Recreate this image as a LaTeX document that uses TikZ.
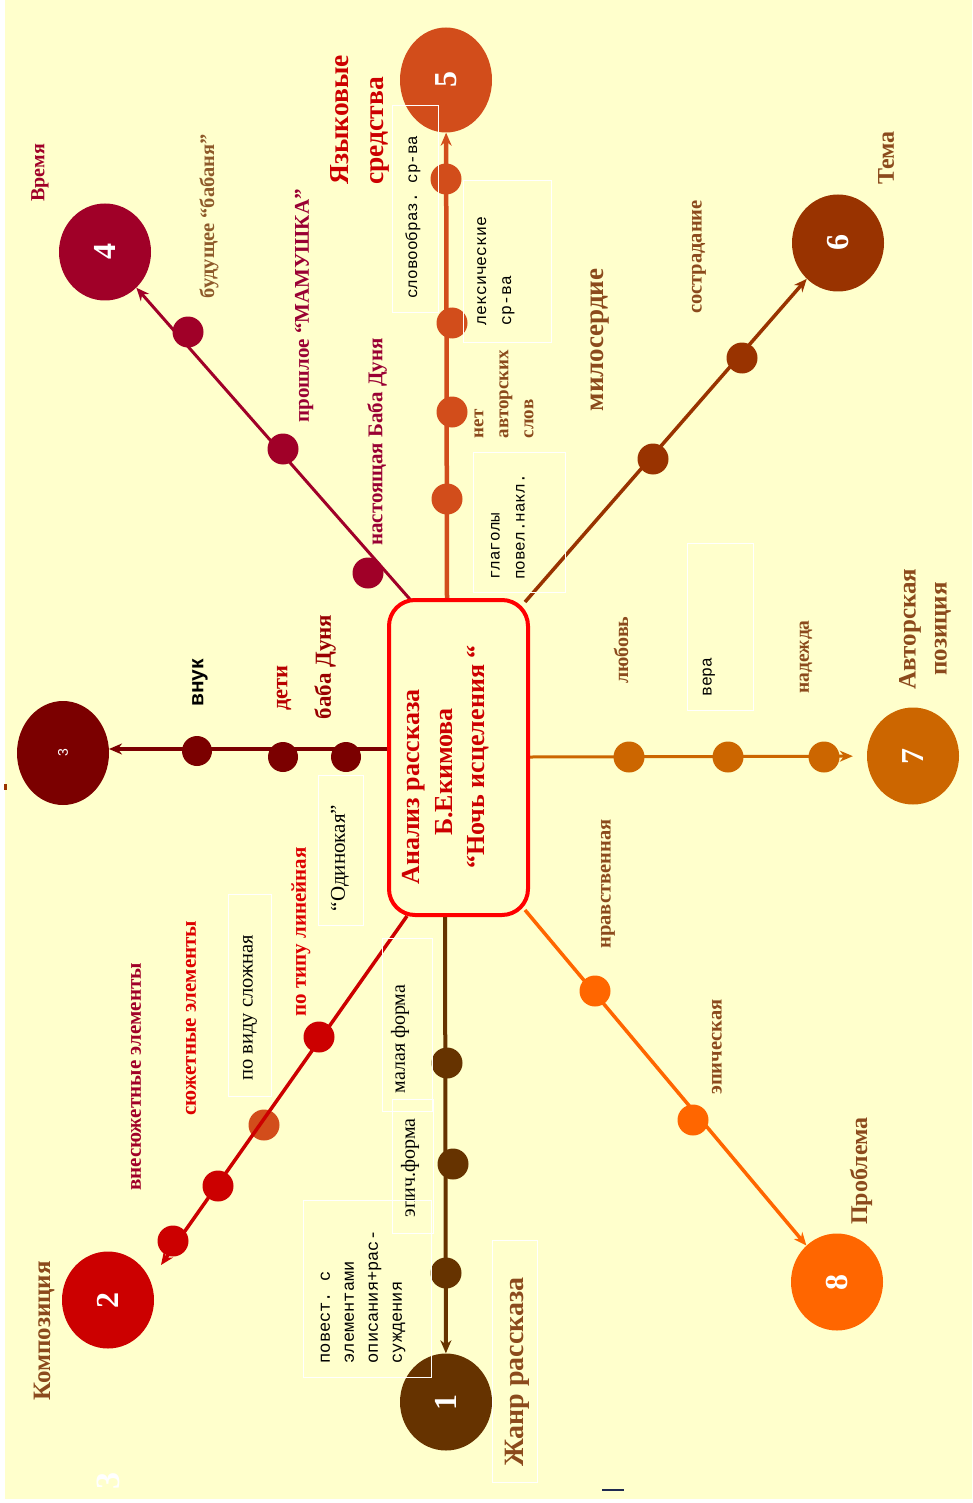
\documentclass[tikz,border=0pt]{standalone}
\usepackage{fontspec}
\setmainfont{Liberation Serif}
\setmonofont{Liberation Mono}
\newfontfamily\lsans{Liberation Sans}
\usetikzlibrary{shapes.geometric,arrows.meta}
\newcommand\fsz[2]{\fontsize{#1}{#2}\selectfont}
\definecolor{bgY}{HTML}{FFFFCC}
\definecolor{c1}{HTML}{663300}
\definecolor{c2}{HTML}{CC0000}
\definecolor{c3}{HTML}{7B0000}
\definecolor{c4}{HTML}{A00028}
\definecolor{c5}{HTML}{D24D1B}
\definecolor{c6}{HTML}{993300}
\definecolor{c7}{HTML}{CC6600}
\definecolor{c8}{HTML}{FF6600}
\definecolor{lbrown}{HTML}{8B4A1C}
\definecolor{lolive}{HTML}{8E5A2A}
\definecolor{lcrim}{HTML}{990033}
\definecolor{lred}{HTML}{DD0000}
\definecolor{ldark}{HTML}{990000}
\definecolor{navy}{HTML}{1F2A50}
\tikzset{
  big/.style={ellipse, rotate=90, inner sep=0pt, minimum width=97pt, minimum height=92pt, text=white, font=\bfseries\fsz{32}{32}},
  dotn/.style={circle, inner sep=0pt, minimum size=31pt},
  lbl/.style={rotate=90, inner sep=0pt},
  arr/.style={-{Stealth[length=13pt,width=11pt]}},
  wbox/.style={draw=white, line width=0.8pt},
}
\begin{document}
\begin{tikzpicture}[x=1pt,y=-1pt]
% background
\fill[white] (0,0) rectangle (972,1503);
\fill[bgY] (5,0) rectangle (972,1499);
\useasboundingbox (0,0) rectangle (972,1503);

% big numbered circles
\node[big, fill=c1] (n1) at (446,1402) {1};
\node[big, fill=c2] (n2) at (108,1300) {2};
\node[big, fill=c3, minimum width=104pt, font=\lsans\fsz{14}{14}] (n3) at (63,753) {3};
\node[big, fill=c4] (n4) at (105,252) {4};
\node[big, fill=c5, minimum width=105pt] (n5) at (446,80) {5};
\node[big, fill=c6] (n6) at (838,243) {6};
\node[big, fill=c7] (n7) at (913,756) {7};
\node[big, fill=c8] (n8) at (837,1282) {8};

% spoke start points on the central box, and free arrow ends
\coordinate (s1) at (445,917);
\coordinate (s2) at (407,916);
\coordinate (s3) at (390,749);
\coordinate (s4) at (415,605);
\coordinate (s5) at (447,599);
\coordinate (s6) at (525,602);
\coordinate (s7) at (530,757);
\coordinate (s8) at (525,910);
\coordinate (e2) at (161,1265);
\coordinate (e3) at (109,749);

% dots lying under their spoke line
\node[dotn, fill=c5] (d51) at (446,179) {};
\node[dotn, fill=c5] (d52) at (452,323) {};
\node[dotn, fill=c5] (d53) at (452,412) {};
\node[dotn, fill=c5] (d54) at (447,499) {};
\node[dotn, fill=c5] (d22) at (264,1125) {};

% spokes
\draw[arr, c4, line width=3pt] (s4) -- (n4);
\draw[arr, c5, line width=4.5pt] (s5) -- (n5);
\draw[arr, c6, line width=3.5pt] (s6) -- (n6);
\draw[arr, c7, line width=3pt, shorten >=14pt] (s7) -- (n7);
\draw[arr, c8, line width=3.5pt] (s8) -- (n8);
\draw[arr, c1, line width=4pt] (s1) -- (n1);
\draw[arr, c2, line width=3.5pt] (s2) -- (e2);
\draw[arr, c3, line width=3.5pt] (s3) -- (e3);

% dots on top
\node[dotn, fill=c4] (d41) at (368,573) {};
\node[dotn, fill=c4] (d42) at (283,449) {};
\node[dotn, fill=c4] (d43) at (188,332) {};
\node[dotn, fill=c6] (d61) at (653,459) {};
\node[dotn, fill=c6] (d62) at (742,358) {};
\node[dotn, fill=c7] (d71) at (629,757) {};
\node[dotn, fill=c7] (d72) at (728,757) {};
\node[dotn, fill=c7] (d73) at (824,757) {};
\node[dotn, fill=c8] (d81) at (595,991) {};
\node[dotn, fill=c8] (d82) at (693,1120) {};
\node[dotn, fill=c1] (d11) at (447,1063) {};
\node[dotn, fill=c1] (d12) at (453,1164) {};
\node[dotn, fill=c1] (d13) at (446,1273) {};
\node[dotn, fill=c2] (d21) at (319,1037) {};
\node[dotn, fill=c2] (d23) at (218,1186) {};
\node[dotn, fill=c2] (d24) at (173,1241) {};
\node[dotn, fill=c3, minimum size=30pt] (d31) at (346,757) {};
\node[dotn, fill=c3, minimum size=30pt] (d32) at (283,757) {};
\node[dotn, fill=c3, minimum size=30pt] (d33) at (197,751) {};

% central box
\node[draw=red, line width=4pt, rounded corners=26pt, fill=bgY, minimum width=139pt, minimum height=315pt, inner sep=0pt] (box) at (458.5,757.5) {};
\node[lbl, align=center, text=c2, font=\bfseries\fsz{26}{32.5}] (title) at (446,772) {Анализ рассказа\hspace*{30pt}\\Б.Екимова\\\hspace*{30pt}“Ночь исцеления “};

% labels: spoke 4 (Время)
\node[lbl, text=c4, font=\bfseries\fsz{20}{20}] (t4) at (40,173) {Время};
\node[lbl, text=lolive, font=\bfseries\fsz{20.5}{20.5}] (l43) at (209,216) {будущее “бабаня”};
\node[lbl, text=lcrim, font=\bfseries\fsz{21}{21}] (l42) at (304,306) {прошлое “МАМУШКА”};
\node[lbl, text=lcrim, font=\bfseries\fsz{21}{21}] (l41) at (377,442) {настоящая Баба Дуня};

% spoke 5 (Языковые средства)
\node[lbl, align=left, text=c2, font=\bfseries\fsz{27.5}{35}] (t5) at (360,120) {Языковые\\средства};
\node[lbl, font=\ttfamily\fsz{16}{16}] (l54) at (413,217) {словообраз. ср-ва};
\node[lbl, align=left, font=\ttfamily\fsz{16.5}{25}] (l53) at (496,271) {лексические\\ср-ва};
\node[lbl, align=left, text=lbrown, font=\bfseries\fsz{19}{25}] (l52) at (504,394) {нет\\авторских\\слов};
\node[lbl, align=left, font=\ttfamily\fsz{16}{25}] (l51) at (508,527) {глаголы\\повел.накл.};

% spoke 6 (Тема)
\node[lbl, text=lbrown, font=\bfseries\fsz{24}{24}] (t6) at (886,158) {Тема};
\node[lbl, text=lbrown, font=\bfseries\fsz{20.5}{20.5}] (l62) at (699,257) {сострадание};
\node[lbl, text=lbrown, font=\bfseries\fsz{27}{27}] (l61) at (600,340) {милосердие};

% spoke 7 (Авторская позиция)
\node[lbl, align=center, text=lbrown, font=\bfseries\fsz{25}{31}] (t7) at (925,629) {Авторская\\позиция};
\node[lbl, text=lbrown, font=\bfseries\fsz{20}{20}] (l71) at (621,650) {любовь};
\node[lbl, font=\ttfamily\fsz{16.5}{16.5}] (l72) at (709,677) {вера};
\node[lbl, text=lbrown, font=\bfseries\fsz{19.5}{19.5}] (l73) at (806,657) {надежда};

% spoke 8 (Проблема)
\node[lbl, text=lbrown, font=\bfseries\fsz{24}{24}] (t8) at (861,1171) {Проблема};
\node[lbl, text=lbrown, font=\bfseries\fsz{20.5}{20.5}] (l81) at (608,884) {нравственная};
\node[lbl, text=lbrown, font=\bfseries\fsz{20.5}{20.5}] (l82) at (717,1047) {эпическая};

% spoke 1 (Жанр рассказа)
\node[lbl, text=lbrown, font=\bfseries\fsz{28}{28}] (t1) at (517,1372) {Жанр рассказа};
\node[lbl, font=\fsz{20}{20}] (l11) at (400,1039) {малая форма};
\node[lbl, font=\fsz{20}{20}] (l12) at (410,1168) {эпич.форма};
\node[lbl, align=left, font=\ttfamily\fsz{17}{24}] (l13) at (363,1297) {повест. с\\элементами\\описания+рас-\\суждения};

% spoke 2 (Композиция)
\node[lbl, text=lbrown, font=\bfseries\fsz{25}{25}] (t2) at (44,1331) {Композиция};
\node[lbl, text=c4, font=\bfseries\fsz{21}{21}] (l24) at (136,1077) {внесюжетные элементы};
\node[lbl, text=lred, font=\bfseries\fsz{21}{21}] (l23) at (191,1018) {сюжетные элементы};
\node[lbl, font=\fsz{20.5}{20.5}] (l22) at (250,1008) {по виду сложная};
\node[lbl, text=lred, font=\bfseries\fsz{21}{21}] (l21) at (301,932) {по типу линейная};

% spoke 3
\node[lbl, font=\lsans\bfseries\fsz{21}{21}] (l33) at (200,683) {внук};
\node[lbl, text=c2!90!black, font=\bfseries\fsz{22.5}{22.5}] (l32) at (284,688) {дети};
\node[lbl, text=ldark, font=\bfseries\fsz{23}{23}] (l31) at (325,667) {баба Дуня};
\node[lbl, font=\fsz{21}{21}] (l34) at (340,858) {“Одинокая”};

% thin white frames
\draw[wbox] (392,105) rectangle (438,312);
\draw[wbox] (463,180) rectangle (551,342);
\draw[wbox] (473,452) rectangle (565,592);
\draw[wbox] (687,543) rectangle (753,710);
\draw[wbox] (228,894) rectangle (271,1096);
\draw[wbox] (318,775) rectangle (363,925);
\draw[wbox] (382,938) rectangle (432,1111);
\draw[wbox] (392,1099) rectangle (433,1233);
\draw[wbox] (303,1200) rectangle (431,1377);
\draw[wbox] (492,1240) rectangle (537,1482);

% stray marks
\node[lbl, text=white, font=\bfseries\fsz{34}{34}] (ghost) at (108,1481) {3};
\draw[navy, line width=1.5pt] (602,1490) -- (624,1490);
\fill[c6] (4,784) rectangle (7,790);
\end{tikzpicture}
\end{document}
